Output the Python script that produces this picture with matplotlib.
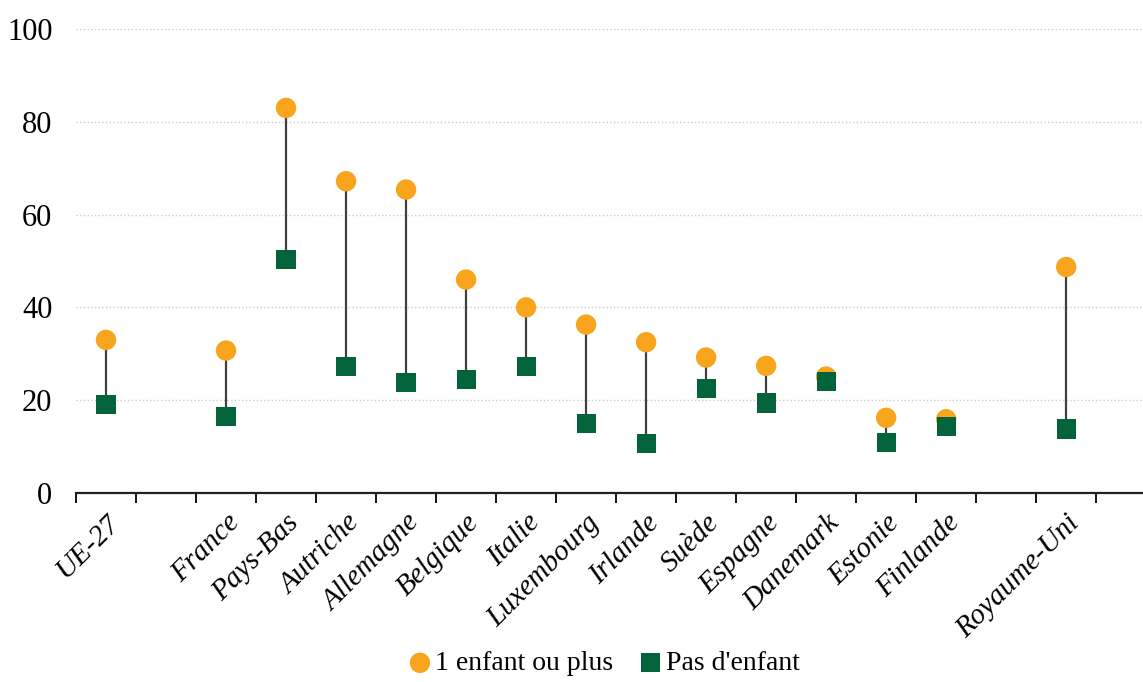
import matplotlib.pyplot as plt
import numpy as np

plt.rcParams['font.family'] = ['Liberation Serif', 'DejaVu Serif']

# empty strings are the gaps in the category axis
pays = ['UE-27', '', 'France', 'Pays-Bas', 'Autriche', 'Allemagne', 'Belgique', 'Italie',
        'Luxembourg', 'Irlande', 'Suède', 'Espagne', 'Danemark', 'Estonie', 'Finlande',
        '', 'Royaume-Uni', '']
avec_enfant = [33.0, np.nan, 30.7, 83.0, 67.2, 65.4, 46.0, 40.0,
               36.3, 32.5, 29.2, 27.4, 25.1, 16.2, 15.9, np.nan, 48.7, np.nan]
sans_enfant = [19.0, np.nan, 16.4, 50.4, 27.2, 23.9, 24.4, 27.2,
               14.9, 10.6, 22.6, 19.4, 24.1, 10.9, 14.4, np.nan, 13.8, np.nan]

orange = '#F8A51D'
vert = '#03633A'

fig = plt.figure(figsize=(11.43, 6.82), dpi=100)
ax = fig.add_axes([76 / 1143, (682 - 493) / 682, 1 - 76 / 1143, (493 - 29) / 682])

x = np.arange(len(pays))
a = np.array(avec_enfant)
s = np.array(sans_enfant)

ax.vlines(x, s, a, color='#404040', linewidth=1.6, zorder=2)
ax.scatter(x, a, s=215, marker='o', color=orange, edgecolor='none', zorder=3,
           label='1 enfant ou plus')
ax.scatter(x, s, s=190, marker='s', color=vert, edgecolor='none', zorder=4,
           label="Pas d'enfant")

ax.set_ylim(0, 100)
ax.set_xlim(-0.5, 17.28)
ax.set_yticks(np.arange(0, 101, 20))
ax.yaxis.grid(True, color='#cccccc', linestyle=':', linewidth=1.0)
ax.set_axisbelow(True)

for sp in ['top', 'right', 'left']:
    ax.spines[sp].set_visible(False)
ax.spines['bottom'].set_linewidth(1.6)
ax.spines['bottom'].set_color('#222222')

ax.tick_params(axis='y', length=0, labelsize=22, pad=17)
ax.set_xticks(x - 0.5, minor=False)
ax.set_xticklabels([])
ax.tick_params(axis='x', which='major', length=7, width=1.3, direction='out')
ax.set_xticks(x, minor=True)
ax.set_xticklabels(pays, minor=True, rotation=45, ha='right', rotation_mode='anchor',
                   fontsize=21, style='italic')
ax.tick_params(axis='x', which='minor', length=0, pad=12)

fig.legend(loc='lower center', bbox_to_anchor=(0.527, -0.028), ncol=2, frameon=False,
           fontsize=20, handletextpad=0.0, columnspacing=0.8, markerscale=1.0,
           handlelength=1.1)

fig.savefig('out.png', dpi=100)
